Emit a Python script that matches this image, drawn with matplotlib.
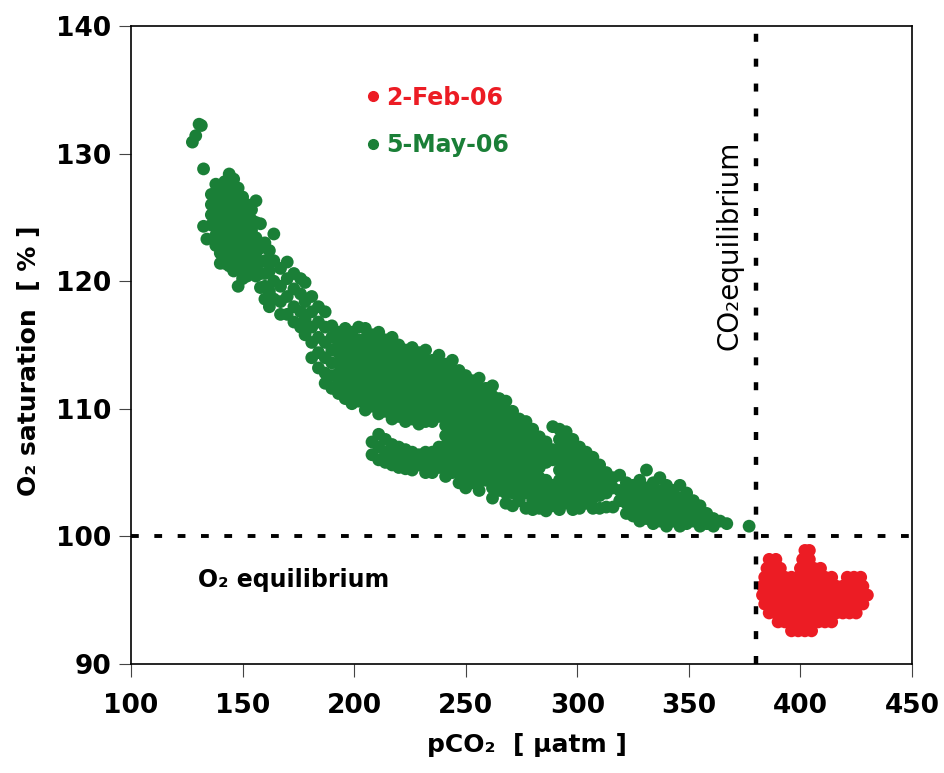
import numpy as np
import matplotlib
matplotlib.use("Agg")
import matplotlib.pyplot as plt
from matplotlib.lines import Line2D

# ---------------- data ----------------
# 5-May-06 (green): pCO2 columns and the O2 saturation values read in each column
may_pco2_cols = [127.5, 129.0, 130.5, 131.5, 132.5, 134.0,
                 136, 138, 140, 142, 144, 146, 148, 150, 152, 154, 156, 158, 160, 162, 164,
                 167, 170, 173, 176, 178, 181, 184, 187, 190, 193, 196, 199, 202, 205,
                 208, 211, 214, 217, 220, 223, 226, 229, 232, 235, 238, 241, 244, 247,
                 250, 253, 256, 259, 262, 265, 268, 271, 274, 277, 280, 283, 286, 289,
                 292, 295, 298, 301, 304, 307, 310, 313, 316, 319, 322, 325, 328, 331,
                 334, 337, 340, 343, 346, 349, 352, 355, 358, 361, 364, 367, 377]
may_o2_cols = [
    [130.9], [131.4], [132.3], [132.2], [128.8, 124.3], [123.3],
    [126.8, 126.0, 125.2, 124.4],
    [127.6, 126.8, 126.0, 125.2, 124.4, 123.6, 122.8],
    [127.0, 126.2, 125.4, 124.6, 123.8, 123.0, 122.2, 121.4],
    [127.8, 127.0, 126.2, 125.4, 124.6, 123.8, 123.0, 122.2, 121.4],
    [128.4, 127.6, 126.8, 126.0, 125.2, 124.4, 123.6, 122.8, 122.0, 121.2],
    [128.0, 127.2, 126.4, 125.6, 124.8, 124.0, 123.2, 122.4, 121.6, 120.8],
    [127.3, 126.5, 125.7, 124.9, 124.1, 123.3, 122.5, 121.7, 120.9, 119.6],
    [126.6, 125.8, 125.0, 124.2, 123.4, 122.6, 121.8, 121.0, 120.2],
    [126.0, 125.2, 124.4, 123.6, 122.8, 122.0, 121.2, 120.4],
    [125.6, 124.8, 124.0, 123.2, 122.4, 121.6, 120.8],
    [126.3, 124.6, 123.4, 122.2, 121.2, 120.4],
    [124.5, 122.6, 121.5, 120.6, 119.5],
    [123.0, 121.6, 120.6, 119.6, 118.6],
    [122.4, 120.8, 119.2, 118.0],
    [123.7, 121.6, 120.0, 118.6],
    [121.0, 119.6, 118.4, 117.4],
    [121.5, 120.2, 118.8, 117.4],
    [120.6, 119.4, 118.0, 116.8],
    [120.2, 119.0, 117.6, 116.4],
    [119.9, 118.4, 117.0, 115.8],
    [118.8, 117.6, 116.4, 115.2, 114.0],
    [118.0, 116.8, 115.6, 114.4, 113.2],
    [117.6, 116.4, 115.2, 114.0, 112.8, 112.0],
    [116.5, 115.6, 114.6, 113.6, 112.6, 111.6],
    [116.0, 115.2, 114.4, 113.6, 112.8, 112.0, 111.2],
    [116.3, 115.5, 114.7, 113.9, 113.1, 112.3, 111.5, 110.8],
    [116.0, 115.2, 114.4, 113.6, 112.8, 112.0, 111.2, 110.4],
    [116.4, 115.4, 114.6, 113.8, 113.0, 112.2, 111.4, 110.6],
    [116.3, 115.5, 114.7, 113.9, 113.1, 112.3, 111.5, 110.7, 109.9],
    [115.8, 115.0, 114.2, 113.4, 112.6, 111.8, 111.0, 110.2, 107.4, 106.4],
    [116.0, 115.2, 114.4, 113.6, 112.8, 112.0, 111.2, 110.4, 109.6, 108.0, 107.0, 106.0],
    [115.4, 114.6, 113.8, 113.0, 112.2, 111.4, 110.6, 109.8, 107.6, 106.6, 105.8],
    [115.6, 114.8, 114.0, 113.2, 112.4, 111.6, 110.8, 110.0, 109.2, 107.2, 106.4, 105.6],
    [115.0, 114.2, 113.4, 112.6, 111.8, 111.0, 110.2, 109.4, 107.0, 106.2, 105.4],
    [114.6, 113.8, 113.0, 112.2, 111.4, 110.6, 109.8, 109.0, 106.8, 106.0, 105.3],
    [114.8, 114.0, 113.2, 112.4, 111.6, 110.8, 110.0, 109.2, 106.6, 105.8, 105.2],
    [114.4, 113.6, 112.8, 112.0, 111.2, 110.4, 109.6, 108.8, 106.4, 105.6],
    [114.6, 113.8, 113.0, 112.2, 111.4, 110.6, 109.8, 109.0, 106.6, 105.8, 105.0],
    [113.8, 113.0, 112.2, 111.4, 110.6, 109.8, 109.0, 106.6, 105.8, 105.0],
    [114.2, 113.4, 112.6, 111.8, 111.0, 110.2, 109.4, 107.0, 106.2, 105.4],
    [113.5, 112.7, 111.9, 111.1, 110.3, 109.5, 108.7, 107.9, 107.1, 106.3, 105.5, 104.7],
    [113.8, 113.0, 112.2, 111.4, 110.6, 109.8, 109.0, 108.2, 107.4, 106.6, 105.8, 105.0],
    [113.0, 112.2, 111.4, 110.6, 109.8, 109.0, 108.2, 107.4, 106.6, 105.8, 105.0, 104.2],
    [112.6, 111.8, 111.0, 110.2, 109.4, 108.6, 107.8, 107.0, 106.2, 105.4, 104.6, 103.8],
    [112.2, 111.4, 110.6, 109.8, 109.0, 108.2, 107.4, 106.6, 105.8, 105.0, 104.2],
    [112.4, 111.6, 110.8, 110.0, 109.2, 108.4, 107.6, 106.8, 106.0, 105.2, 104.4, 103.6],
    [111.6, 110.8, 110.0, 109.2, 108.4, 107.6, 106.8, 106.0, 105.2, 104.4],
    [111.8, 111.0, 110.2, 109.4, 108.6, 107.8, 107.0, 106.2, 105.4, 104.6, 103.8, 103.0],
    [110.8, 110.0, 109.2, 108.4, 107.6, 106.8, 106.0, 105.2, 104.4, 103.6],
    [110.6, 109.8, 109.0, 108.2, 107.4, 106.6, 105.8, 105.0, 104.2, 103.4, 102.6],
    [109.8, 109.0, 108.2, 107.4, 106.6, 105.8, 105.0, 104.2, 103.4, 102.4],
    [109.2, 108.4, 107.6, 106.8, 106.0, 105.2, 104.4, 103.6, 102.8],
    [109.0, 108.2, 107.4, 106.6, 105.8, 105.0, 104.2, 103.4, 102.2],
    [108.4, 107.6, 106.8, 106.0, 105.2, 104.4, 103.6, 102.8, 102.1],
    [107.8, 107.0, 106.2, 105.4, 104.6, 103.8, 103.0, 102.2],
    [107.4, 106.6, 105.8, 104.4, 103.6, 102.8, 102.0],
    [108.6, 106.8, 106.0, 104.0, 103.2, 102.4],
    [108.4, 107.6, 106.8, 106.0, 105.2, 104.4, 103.6, 102.8, 102.1],
    [108.2, 107.4, 106.6, 105.8, 105.0, 104.2, 103.4, 102.6],
    [107.6, 106.8, 106.0, 105.2, 104.4, 103.6, 102.8, 102.1],
    [107.0, 106.2, 105.4, 104.6, 103.8, 103.0, 102.2],
    [106.6, 105.8, 105.0, 104.2, 103.4, 102.6],
    [106.2, 105.4, 104.6, 103.8, 103.0, 102.2],
    [105.6, 104.8, 104.0, 103.2, 102.2],
    [105.0, 104.2, 103.4, 102.3],
    [104.6, 103.8, 102.3],
    [104.8, 103.6, 102.8],
    [104.2, 103.4, 102.6, 101.8],
    [104.0, 103.2, 102.4, 101.6],
    [104.4, 103.6, 102.8, 102.0, 101.2],
    [105.2, 103.8, 103.0, 102.2, 101.4],
    [104.2, 103.4, 102.6, 101.8, 101.0],
    [104.6, 103.6, 102.8, 102.0, 101.2],
    [104.0, 103.2, 102.4, 101.6, 100.8],
    [103.6, 102.8, 102.0, 101.2],
    [104.0, 103.0, 102.2, 101.4, 100.8],
    [103.4, 102.6, 101.8, 101.0],
    [102.8, 102.0, 101.2],
    [102.4, 101.6, 100.8],
    [101.8, 101.0],
    [101.4, 100.8],
    [101.2],
    [101.0],
    [100.8],
]

# 2-Feb-06 (red): O2 saturation rows and the pCO2 values read in each row
feb_o2_rows = [92.6, 93.3, 94.0, 94.7, 95.4, 96.1, 96.8, 97.5, 98.2, 98.9]
feb_pco2_rows = [
    [396, 399, 402, 405],
    [390, 393, 396, 399, 402, 405, 408, 411, 414],
    [386, 389, 392, 395, 398, 401, 404, 407, 410, 413, 416, 419, 422, 425],
    [384, 387, 390, 393, 396, 399, 402, 405, 408, 411, 414, 417, 420, 423, 426, 428],
    [383, 386, 389, 392, 395, 398, 401, 404, 407, 410, 413, 416, 419, 422, 425, 428, 430],
    [383, 386, 389, 392, 395, 398, 401, 404, 407, 410, 413, 416, 419, 422, 425, 428],
    [384, 387, 390, 393, 396, 399, 402, 405, 408, 411, 414, 421, 424, 427],
    [385, 388, 391, 400, 403, 406, 409],
    [386, 389, 401, 404],
    [402, 404],
]

series_labels = ["2-Feb-06", "5-May-06"]
co2_equilibrium = 380
o2_equilibrium = 100
x_ticks = [100, 150, 200, 250, 300, 350, 400, 450]
y_ticks = [90, 100, 110, 120, 130, 140]

# ---------------- build flat arrays ----------------
may_x = np.concatenate([[x] * len(ys) for x, ys in zip(may_pco2_cols, may_o2_cols)])
may_y = np.concatenate([ys for ys in may_o2_cols])
feb_x = np.concatenate([xs for xs in feb_pco2_rows])
feb_y = np.concatenate([[y] * len(xs) for y, xs in zip(feb_o2_rows, feb_pco2_rows)])

GREEN = "#1a7f37"
RED = "#ec1c24"

fig = plt.figure(figsize=(9.44, 7.73), dpi=100)
ax = fig.add_axes([0.1388, 0.1410, 0.8273, 0.8254])

ax.scatter(may_x, may_y, s=85, c=GREEN, edgecolors="none", marker="o", zorder=3)
ax.scatter(feb_x, feb_y, s=85, c=RED, edgecolors="none", marker="o", zorder=3)

ax.axvline(co2_equilibrium, color="black", lw=3.2, linestyle=(0, (1.8, 3.8)), zorder=4)
ax.axhline(o2_equilibrium, color="black", lw=2.8, linestyle=(0, (2.0, 4.0)), zorder=4)

ax.set_xlim(100, 450)
ax.set_ylim(90, 140)
ax.set_xticks(x_ticks)
ax.set_yticks(y_ticks)

for s in ax.spines.values():
    s.set_linewidth(1.2)
    s.set_color("black")

ax.tick_params(axis="both", direction="out", length=9, width=0.8, color="#444444")
ax.tick_params(axis="x", pad=12)
ax.tick_params(axis="y", pad=5)
for lab in ax.get_xticklabels() + ax.get_yticklabels():
    lab.set_fontfamily("DejaVu Sans")
    lab.set_fontweight("bold")
    lab.set_fontsize(19)

ax.set_xlabel("pCO\u2082  [ \u00b5atm ]", fontfamily="DejaVu Sans", fontweight="bold", fontsize=18)
ax.xaxis.set_label_coords(0.507, -0.108)
ax.set_ylabel("O\u2082 saturation  [ % ]", fontfamily="DejaVu Sans", fontweight="bold", fontsize=18)
ax.yaxis.set_label_coords(-0.115, 0.475)

ax.text(130, 96.0, "O\u2082 equilibrium", fontfamily="DejaVu Sans", fontweight="bold",
        fontsize=17, ha="left", va="baseline")
ax.text(371.6, 114.6, "CO\u2082equilibrium", fontfamily="DejaVu Sans", fontsize=20,
        rotation=90, rotation_mode="anchor", ha="left", va="baseline")

handles = [Line2D([], [], linestyle="none", marker="o", markersize=7, color=RED),
           Line2D([], [], linestyle="none", marker="o", markersize=7, color=GREEN)]
leg = ax.legend(handles, series_labels, loc="upper left", bbox_to_anchor=(0.274, 0.94),
                frameon=False, handlelength=0.6, handletextpad=0.25, labelspacing=1.0,
                prop=dict(family="DejaVu Sans", weight="bold", size=17))
for txt, col in zip(leg.get_texts(), [RED, GREEN]):
    txt.set_color(col)

fig.savefig("out.png", dpi=100)
